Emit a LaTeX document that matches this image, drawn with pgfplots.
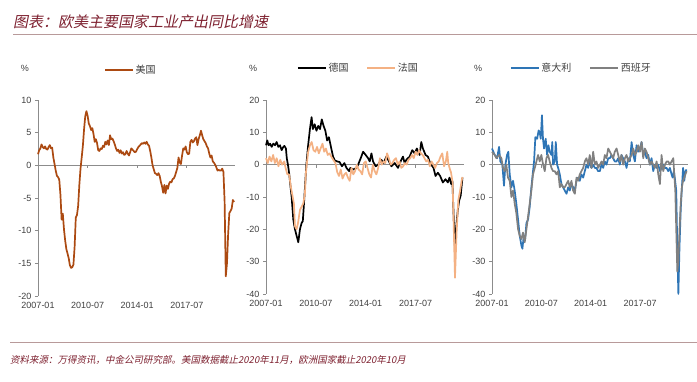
\documentclass[border=0pt]{standalone}
\usepackage{fontspec}
\usepackage{pgfplots}
\pgfplotsset{compat=1.18}
\setmainfont{Liberation Sans}
\newfontfamily\cjk{Noto Sans CJK SC}
\newfontfamily\cjkit[FakeSlant=0.2]{Noto Sans CJK SC}
\definecolor{usc}{HTML}{AC4A12}
\definecolor{frc}{HTML}{F4B183}
\definecolor{itc}{HTML}{2E75B6}
\definecolor{esc}{HTML}{808080}
\definecolor{titc}{HTML}{7E2130}
\definecolor{linec}{HTML}{B89A9A}
\definecolor{axc}{HTML}{8C8C8C}
\definecolor{txc}{HTML}{404040}
\pgfplotsset{panel/.style={
  scale only axis, anchor=south west,
  xmin=0, xmax=166.8,
  axis lines*=left,
  x axis line style={draw=none},
  xtick={0,42,84,126},
  xticklabels={2007-01,2010-07,2014-01,2017-07},
  x tick style={draw=none},
  y axis line style={axc, line width=0.7pt},
  y tick style={axc, line width=0.7pt},
  tick align=outside, major tick length=3pt,
  tick label style={font=\fontsize{9}{10}\selectfont, text=txc},
  legend style={draw=none, fill=none, anchor=center,
    font=\cjk\fontsize{10}{12}\selectfont, text=txc,
    nodes={inner xsep=1.5pt},
    /tikz/every even column/.append style={column sep=16pt}},
  legend columns=2,
  legend image code/.code={\draw[##1, line width=2.3pt] (0pt,0pt) -- (28pt,0pt);},
  clip=false,
}}
\begin{document}
\begin{tikzpicture}
\useasboundingbox (0pt,0pt) rectangle (697pt,381pt);
\fill[white] (0pt,0pt) rectangle (697pt,381pt);
% title and rules
\node[anchor=west, text=titc, font=\cjkit\fontsize{15}{18}\selectfont, inner sep=0pt] at (13pt,359pt) {图表：欧美主要国家工业产出同比增速};
\draw[linec, line width=1pt] (13pt,346pt) -- (697pt,346pt);
\draw[linec, line width=1pt] (10pt,39pt) -- (697pt,39pt);
\node[anchor=west, text=titc, font=\cjkit\fontsize{9.5}{11}\selectfont, inner sep=0pt] at (10pt,21pt) {资料来源：万得资讯，中金公司研究部。美国数据截止2020年11月，欧洲国家截止2020年10月};
% percent signs
\node[font=\fontsize{9}{10}\selectfont, text=txc] at (25pt,313pt) {\%};
\node[font=\fontsize{9}{10}\selectfont, text=txc] at (253pt,313pt) {\%};
\node[font=\fontsize{9}{10}\selectfont, text=txc] at (478pt,313pt) {\%};

% ---------- Panel 1: USA
\begin{axis}[panel, at={(38pt,85pt)}, width=197pt, height=196pt,
  ymin=-20, ymax=10, ytick={-20,-15,-10,-5,0,5,10},
  yticklabels={-20,-15,-10,-5,0,5,10},
  legend style={at={(0.47,1.153)}}]
\draw[axc, line width=1.2pt] (axis cs:0,0) -- (axis cs:166.8,0);
\pgfplotsinvokeforeach{42,84,126}{\draw[axc, line width=0.7pt] (axis cs:#1,0) -- ++(0pt,-3pt);}
\addplot[usc, line width=1.7pt, line join=round] coordinates {
(0,1.7)(1,2.3)(2,2.6)(3,3.2)(4,2.8)(5,2.6)(6,2.9)(7,2.5)(8,2.4)(9,2.8)(10,3.1)(11,2.6)
(12,2.7)(13,1.2)(14,0.2)(15,-0.8)(16,-1.6)(17,-1.8)(18,-2.2)(19,-4.5)(20,-8.3)(21,-7.4)(22,-9.8)(23,-11.5)
(24,-12.8)(25,-13.5)(26,-14.2)(27,-15.3)(28,-15.7)(29,-15.6)(30,-15.2)(31,-12.5)(32,-8.0)(33,-7.6)(34,-6.2)(35,-3.0)
(36,-0.5)(37,1.2)(38,3.0)(39,5.5)(40,7.5)(41,8.3)(42,7.6)(43,6.4)(44,6.0)(45,5.4)(46,5.7)(47,4.8)
(48,3.6)(49,4.0)(50,3.4)(51,2.3)(52,2.2)(53,2.6)(54,2.5)(55,3.0)(56,2.8)(57,3.6)(58,3.2)(59,3.8)
(60,3.1)(61,4.6)(62,4.0)(63,4.1)(64,3.7)(65,3.2)(66,2.6)(67,2.2)(68,2.4)(69,1.9)(70,2.3)(71,1.8)
(72,2.0)(73,1.6)(74,1.7)(75,2.2)(76,1.8)(77,1.5)(78,2.0)(79,2.6)(80,2.4)(81,2.2)(82,2.0)(83,2.1)
(84,2.5)(85,2.8)(86,3.0)(87,3.2)(88,3.4)(89,3.3)(90,3.5)(91,3.3)(92,3.6)(93,3.2)(94,3.0)(95,2.2)
(96,1.2)(97,0.0)(98,-0.6)(99,-1.2)(100,-1.3)(101,-1.5)(102,-1.2)(103,-1.6)(104,-2.5)(105,-3.2)(106,-4.2)(107,-3.0)
(108,-4.3)(109,-3.1)(110,-3.6)(111,-2.8)(112,-2.5)(113,-2.6)(114,-2.1)(115,-2.0)(116,-1.6)(117,-1.0)(118,-0.4)(119,1.2)
(120,0.4)(121,0.2)(122,1.5)(123,2.6)(124,2.4)(125,2.9)(126,2.0)(127,1.7)(128,1.8)(129,3.6)(130,3.9)(131,3.5)
(132,3.7)(133,4.1)(134,4.3)(135,3.1)(136,4.0)(137,4.6)(138,5.3)(139,4.6)(140,4.0)(141,3.7)(142,3.4)(143,2.9)
(144,2.6)(145,1.8)(146,1.2)(147,1.5)(148,0.6)(149,0.4)(150,0.1)(151,-0.3)(152,-0.8)(153,-0.7)(154,-0.8)(155,-0.8)
(156,-0.5)(157,-1.0)(158,-5.5)(159,-17.0)(160,-15.0)(161,-10.5)(162,-7.3)(163,-7.0)(164,-6.6)(165,-5.3)(166,-5.6)
};
\addlegendentry{美国}
\end{axis}

% ---------- Panel 2: Germany, France
\begin{axis}[panel, at={(266pt,87pt)}, width=198pt, height=194pt,
  ymin=-40, ymax=20, ytick={-40,-30,-20,-10,0,10,20},
  yticklabels={-40,-30,-20,-10,0,10,20},
  legend style={at={(0.465,1.165)}}]
\draw[axc, line width=1.2pt] (axis cs:0,0) -- (axis cs:166.8,0);
\pgfplotsinvokeforeach{42,84,126}{\draw[axc, line width=0.7pt] (axis cs:#1,0) -- ++(0pt,-3pt);}
\addplot[black, line width=1.7pt, line join=round] coordinates {
(0,6)(1.1,7.5)(2.2,6)(3.4,6.5)(4.8,5.5)(6.2,6.5)(7.6,6)(9,7)(10.4,5.5)(11.8,6)(13.2,4.5)(14.6,5.5)(15.5,5.8)(16.8,5)
(17.5,2)(18.5,0)(19.6,-3)(20.7,-7)(21.6,-10)(23,-17)(24.4,-20)(25.8,-22)(27.2,-24)(28.6,-20)(30,-18)(31,-17.5)
(32,-12)(33,-6)(34,0)(35.5,6)(37,11)(38.4,14.7)(39.5,11)(41,12.5)(42.5,10.5)(44,12)(45.5,11)(47,14)(48.5,12)
(50,10.5)(51.5,7.5)(53,8.5)(55,5)(56.5,2.5)(58,1.3)(60,1)(62,0.8)(64,-0.5)(66,0.5)(67.8,-1)(70,-2)(71.1,-1)
(73.4,-1.5)(76.2,-1)(77.6,0)(79.8,2)(81.8,4)(84,3)(86,2)(87.4,1)(88.8,3.5)(90.2,1)(92.4,-0.5)(94.4,0)(97.2,1.5)
(99.1,0.5)(101.4,2.5)(103.6,1)(105.6,-0.5)(108.4,0.5)(111.2,-1)(114,1.5)(115.4,2.5)(116.8,0.5)(118.2,1.5)(121,2.5)
(123.2,4.5)(125.2,3.5)(127.1,5)(129.4,3)(130.8,7)(132.2,5)(134.4,3)(136.4,2.5)(137.8,1)(139.2,0)(141.1,-1)
(142.8,-3.5)(144.8,-2.5)(146.7,-3.5)(149,-5.5)(151.2,-4.5)(153.2,-5.5)(154.6,-4)(156,-6)(157,-5)(158,-15)
(159,-25)(160,-20)(161.6,-14)(162.8,-11)(164,-9.6)(165.5,-4)
};
\addlegendentry{德国}
\addplot[frc, line width=1.7pt, line join=round] coordinates {
(0,2)(1.5,0.5)(3,2.5)(4.5,1)(6,3)(7.5,0.5)(9,2)(10.5,-0.5)(12,1.5)(13.5,0)(15.4,1)(16.5,-1)(18,-3)(19.5,-3)
(21,-7)(22.5,-10)(23.5,-12)(24.4,-19)(25.8,-20)(27,-18)(28.6,-14)(30,-13)(31.4,-12)(32.8,-9)(33.5,-3)(34.3,0)
(35.5,4)(37,6)(38.5,7)(40,4.5)(41.5,4)(43,5.5)(44.5,3.5)(46,5)(47.6,6.5)(49,4)(50.5,5)(52,3)(53.5,3.5)(55,2.5)
(57,1.3)(58.5,0.5)(60,-2.3)(61.5,-3.5)(63,-1.5)(64.5,-4.3)(66,-3)(67.5,-2.5)(69,-4)(70.5,-5)(72,-1)(73.5,-3)
(75,-2)(76.5,0)(78,-1.5)(79.5,-2)(81,-3)(82.5,0.5)(84,1)(85.5,-1)(87,-3)(88.5,-4)(90,0)(91.5,-2)(93,-3)
(94.5,-1)(96,2)(97.5,0)(99,1)(100.5,0.5)(102,3.5)(103.5,2)(105,0)(106.5,0.5)(108,1.5)(109.5,2)(111,0)
(112.5,1)(114,-1)(115.5,-0.5)(117,0.5)(118.5,0)(120,1.5)(121.5,2)(123,3)(124.5,2)(126,4)(127.5,3)(129,4.5)
(130.5,3.5)(132,3)(133.5,2)(135,1)(136.5,1.5)(138,-0.5)(139.5,1)(141,0)(142.5,-1)(144,0.5)(145.5,1)(147,2.5)
(148.5,3.5)(150,-0.5)(151.5,1)(152.7,4)(153.5,0.5)(155,-1.5)(155.8,-2.3)(157.2,-5.5)(158,-17)(159.2,-35)
(160.6,-20.6)(162,-11)(163.4,-8.3)(164.8,-5)(165.5,-3.8)
};
\addlegendentry{法国}
\end{axis}

% ---------- Panel 3: Italy, Spain
\begin{axis}[panel, at={(492pt,87pt)}, width=196pt, height=194pt,
  ymin=-40, ymax=20, ytick={-40,-30,-20,-10,0,10,20},
  yticklabels={-40,-30,-20,-10,0,10,20},
  legend style={at={(0.454,1.165)}}]
\draw[axc, line width=1.2pt] (axis cs:0,0) -- (axis cs:166.8,0);
\pgfplotsinvokeforeach{42,84,126}{\draw[axc, line width=0.7pt] (axis cs:#1,0) -- ++(0pt,-3pt);}
\addplot[itc, line width=1.7pt, line join=round] coordinates {
(0,5)(2.3,3)(4.3,2)(6,5.5)(7.1,1)(8.8,0)(10.2,-6.5)(11.4,0)(12.8,3)(13.9,4)(15.1,-3)(16.5,-7)(17.9,-5)
(19.3,-8)(20.7,-12)(22.2,-17)(23.6,-22)(25,-25)(25.9,-26)(27,-22)(28.1,-23.5)(29.3,-18)(30.7,-17)(32.1,-13)
(33.5,-7)(34.9,-2)(35.8,1)(36.9,8.5)(38.4,8)(39.7,10.6)(40.6,10)(41.5,8)(42.5,15.3)(43.4,8)(44.3,5)(45.7,8)
(46.9,3)(48,6)(49.1,4)(50.6,3)(51.3,7)(52,0)(53.4,1)(54.3,7)(55.4,0)(56.3,-1)(57.7,-3)(59.1,-6)(60.5,-7)
(61.9,-8)(63.4,-9)(64.8,-7)(66.2,-8)(67.6,-6)(69,-7)(70.5,-8)(71.9,-5)(73.3,-4)(74.7,-5)(76.1,-3)(77.6,-4)
(79,-2)(80.4,0)(81.8,-1)(83.2,1)(84.7,-1)(86.1,0)(87.5,-1)(88.9,-1)(90.3,-2)(91.8,-2)(93.2,0)(94.6,-1)
(96,1)(97.4,0)(98.9,2)(100.3,2)(101.7,3)(103.1,2)(104.5,1)(106,1)(107.4,2)(108.8,0)(110.2,3)(111.6,2)
(113.1,1)(114.5,-1)(115.9,2)(117.3,1)(118.8,7)(120.2,3)(121.6,1)(123,6)(124.4,4)(125.9,5)(127.3,7)(128.7,3)
(130.1,4)(131.5,2)(133,3)(134.4,0)(135.8,2)(137.2,-2)(138.6,0)(140.1,-1)(141.5,0)(142.9,-2)(144.3,-1)
(145.7,0)(147.2,-1)(148.6,-1)(150,-2)(151.4,-1)(152.8,-3)(153.7,-4)(154.8,-2)(155.7,-4.5)(156.8,-8)
(157.8,-28)(158.6,-40)(159.6,-25)(160.6,-14)(161.6,-7)(162.6,-1)(163.6,-5)(164.6,-2)(165.6,-1.5)
};
\addlegendentry{意大利}
\addplot[esc, line width=1.7pt, line join=round] coordinates {
(0,4)(2.3,3)(3.7,2)(6,3)(8,2)(9.4,-1)(10.8,-2)(12.2,0)(13.6,-4)(15.1,-5)(16.5,-10)(17.9,-8)(19.3,-12)
(20.7,-15)(22.2,-20)(23.6,-22)(25,-23)(26.4,-21)(27.8,-24)(29.3,-20)(30.7,-16)(32.1,-12)(33.5,-8)(34.9,-3)
(36.4,-1)(37.8,1)(39.2,3)(40.6,1)(42,3)(43.5,0)(44.9,-2)(46.3,2)(47.7,3)(49.1,1)(50.6,-1)(52,-2)(53.4,-2)
(54.8,-3)(56.3,-2)(57.7,-7)(59.1,-6)(60.5,-7)(61.9,-7)(63.4,-6)(64.8,-5)(66.2,-7)(67.6,-5)(69,-8)(70.5,-9)
(71.9,-4)(73.3,-5)(74.7,-3)(76.1,-2)(77.6,-1)(79,1)(80.4,2)(81.8,0)(83.2,3)(84.7,-1)(86.1,4)(87.5,0)(88.9,1)
(90.3,-1)(91.8,0)(93.2,1)(94.6,0)(96,3)(97.4,2)(98.9,5)(100.3,4)(101.7,3)(103.1,2)(104.5,4)(106,5)(107.4,3)
(108.8,1)(110.2,3)(111.6,0)(113.1,2)(114.5,3)(115.9,1)(117.3,2)(118.8,3)(120.2,5)(121.6,3)(123,4)(124.4,6)
(125.9,4)(127.3,7)(128.7,2)(130.1,5)(131.5,4)(133,2)(134.4,0)(135.8,1)(137.2,0)(138.6,-1)(140.1,1)(141.5,-3)
(142.9,-6)(144.3,3)(145.7,-2)(147.2,0)(148.6,1)(150,1)(151.4,0)(152.8,1)(154.3,2)(155.1,-3)(156,-8)
(156.8,-20)(157.7,-33)(158.6,-30)(159.6,-20)(160.6,-12)(161.6,-7)(162.6,-5)(163.6,-4)(164.6,-3)(165.6,-2)
};
\addlegendentry{西班牙}
\end{axis}
\end{tikzpicture}
\end{document}
